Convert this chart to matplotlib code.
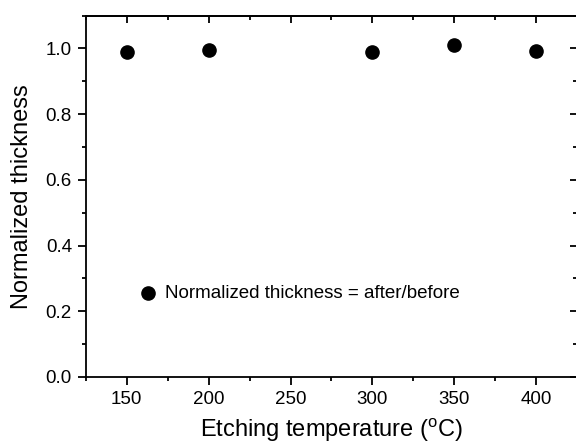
import numpy as np
import matplotlib.pyplot as plt
from matplotlib.ticker import MultipleLocator

plt.rcParams['font.family'] = ['Liberation Sans', 'DejaVu Sans']

# etching temperature (C) and thickness after/before
temperature = [150, 200, 300, 350, 400]
norm_thickness = [0.988, 0.995, 0.988, 1.011, 0.991]

fig = plt.figure(figsize=(5.76, 4.45), dpi=100)
ax = fig.add_axes([0.149, 0.153, 0.853, 0.812])

ax.plot(temperature, norm_thickness, 'o', color='black', markersize=9.5,
        linestyle='none')

# legend-style annotation drawn inside the axes
ax.plot([163], [0.255], 'o', color='black', markersize=9.5)
ax.text(173.5, 0.255, 'Normalized thickness = after/before',
        fontsize=13.5, va='center', ha='left')

ax.set_xlim(125, 425)
ax.set_ylim(0, 1.1)
ax.xaxis.set_major_locator(MultipleLocator(50))
ax.xaxis.set_minor_locator(MultipleLocator(25))
ax.yaxis.set_major_locator(MultipleLocator(0.2))
ax.yaxis.set_minor_locator(MultipleLocator(0.1))
ax.yaxis.set_major_formatter(plt.FormatStrFormatter('%.1f'))

for s in ax.spines.values():
    s.set_linewidth(1.3)

ax.tick_params(which='both', direction='out', width=1.3, labelsize=13.5,
               bottom=True, left=True, top=False, right=False)
ax.tick_params(which='major', length=5.5, pad=4.5)
ax.tick_params(which='minor', length=3)

# mirrored ticks on top/right point inward
ax_top = ax.secondary_xaxis('top')
ax_top.xaxis.set_major_locator(MultipleLocator(50))
ax_top.xaxis.set_minor_locator(MultipleLocator(25))
ax_top.tick_params(which='both', direction='in', width=1.3, labeltop=False)
ax_top.tick_params(which='major', length=5)
ax_top.tick_params(which='minor', length=3)
ax_top.spines['top'].set_linewidth(1.3)

ax_right = ax.secondary_yaxis('right')
ax_right.yaxis.set_major_locator(MultipleLocator(0.2))
ax_right.yaxis.set_minor_locator(MultipleLocator(0.1))
ax_right.tick_params(which='both', direction='in', width=1.3, labelright=False)
ax_right.tick_params(which='major', length=5)
ax_right.tick_params(which='minor', length=3)

ax.set_xlabel('Etching temperature ($\\mathregular{^o}$C)', fontsize=17, labelpad=6.5)
ax.set_ylabel('Normalized thickness', fontsize=17, labelpad=9)

fig.savefig('out.png', dpi=100)
